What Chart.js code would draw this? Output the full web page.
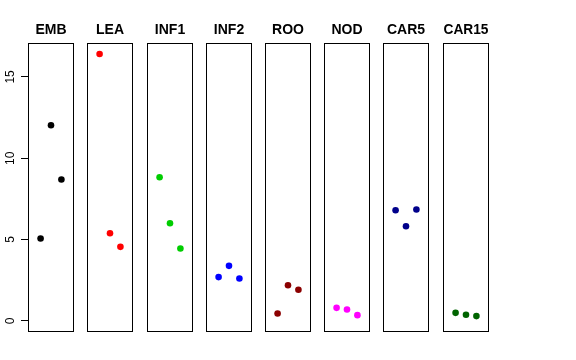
<!DOCTYPE html>
<html>
<head>
<meta charset="utf-8">
<script src="https://cdn.jsdelivr.net/npm/chart.js@4.4.0/dist/chart.umd.min.js"></script>
<style>
  body { margin: 0; background: #fff; }
  #wrap { position: relative; width: 576px; height: 360px; overflow: hidden; }
  #wrap canvas { position: absolute; top: 0; }
</style>
</head>
<body>
<div id="wrap"></div>
<script>
'use strict';
// panel names and the three samples in each panel
var panelNames = ['EMB', 'LEA', 'INF1', 'INF2', 'ROO', 'NOD', 'CAR5', 'CAR15'];
var sampleIdx = [1, 2, 3];

// values, one array per panel
var embValues = [5.06, 12.03, 8.69];
var leaValues = [16.41, 5.39, 4.55];
var inf1Values = [8.83, 6.0, 4.45];
var inf2Values = [2.69, 3.38, 2.6];
var rooValues = [0.45, 2.19, 1.91];
var nodValues = [0.8, 0.7, 0.35];
var car5Values = [6.8, 5.82, 6.85];
var car15Values = [0.49, 0.37, 0.29];
var panelValues = [embValues, leaValues, inf1Values, inf2Values, rooValues, nodValues, car5Values, car15Values];

var yTickValues = [0, 5, 10, 15];

// styles / layout
var panelColors = ['#000000', '#FF0000', '#00CD00', '#0000FF', '#8B0000', '#FF00FF', '#00008B', '#006400'];
var frameLeft = [28, 87, 147, 206, 265, 324, 383, 443];
var frameWidth = 45;
var fontFamily = "'Liberation Sans', Arial, Helvetica, sans-serif";

var framePlugin = {
  id: 'frame',
  afterDatasetsDraw: function(chart) {
    var a = chart.chartArea;
    var ctx = chart.ctx;
    ctx.save();
    ctx.strokeStyle = '#000';
    ctx.lineWidth = 1;
    ctx.strokeRect(a.left, a.top, a.right - a.left, a.bottom - a.top);
    ctx.restore();
  }
};

var wrap = document.getElementById('wrap');

for (var i = 0; i < panelNames.length; i++) {
  var first = i === 0;
  var canvas = document.createElement('canvas');
  var cw = first ? frameLeft[0] + frameWidth + 1 : frameWidth + 1;
  canvas.width = cw;
  canvas.height = 360;
  canvas.style.left = (first ? 0 : frameLeft[i]) + 'px';
  canvas.style.width = cw + 'px';
  canvas.style.height = '360px';
  wrap.appendChild(canvas);

  var pts = [];
  for (var j = 0; j < sampleIdx.length; j++) {
    pts.push({x: sampleIdx[j], y: panelValues[i][j]});
  }

  var yScale = {
    type: 'linear',
    display: first,
    min: -0.656,
    max: 17.056,
    afterBuildTicks: function(scale) {
      scale.ticks = yTickValues.map(function(v) { return {value: v}; });
    },
    border: {display: false},
    grid: {
      drawOnChartArea: false,
      drawTicks: true,
      tickLength: 7.5,
      tickColor: '#000',
      color: '#000'
    },
    ticks: {
      color: '#000',
      font: {family: fontFamily, size: 12},
      minRotation: 90,
      maxRotation: 90,
      crossAlign: 'center',
      padding: 4,
      includeBounds: false
    }
  };
  if (first) {
    // y axis only lives in the first panel, sized so the frame starts at col 28
    yScale.afterFit = function(scale) { scale.width = frameLeft[0] + 0.5; };
  }

  new Chart(canvas.getContext('2d'), {
    type: 'scatter',
    data: {
      datasets: [{
        label: panelNames[i],
        data: pts,
        backgroundColor: panelColors[i],
        borderColor: panelColors[i],
        pointRadius: 3.3,
        pointBorderWidth: 0,
        pointHoverRadius: 3.3
      }]
    },
    options: {
      responsive: false,
      animation: false,
      devicePixelRatio: 1,
      events: [],
      layout: {
        autoPadding: false,
        padding: {left: first ? 0 : 0.5, right: 0.5, top: 0, bottom: 28.5}
      },
      plugins: {
        legend: {display: false},
        tooltip: {enabled: false},
        title: {
          display: true,
          text: panelNames[i],
          fullSize: false,
          color: '#000',
          font: {family: fontFamily, size: 14, weight: 'bold', lineHeight: 1.2},
          padding: {top: 21.3, bottom: 5.4}
        }
      },
      scales: {
        x: {
          type: 'linear',
          display: false,
          min: -0.16,
          max: 4.16
        },
        y: yScale
      }
    },
    plugins: [framePlugin]
  });
}
</script>
</body>
</html>
